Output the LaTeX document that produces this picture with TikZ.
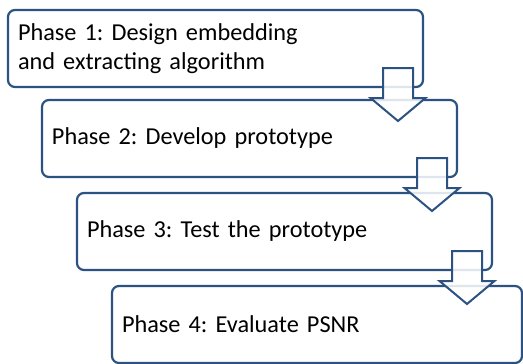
\documentclass[tikz,border=0pt]{standalone}
\usepackage{fontspec}
\setmainfont{Carlito}
\usetikzlibrary{calc}
\definecolor{phaseblue}{RGB}{44,82,130}
\frenchspacing
\begin{document}
\begin{tikzpicture}[x=1pt,y=1pt,
  phase/.style={draw=phaseblue,line width=2.2pt,rounded corners=7pt,fill=white,anchor=north west,outer sep=0pt,
    minimum width=415pt,minimum height=77pt,text width=395pt,inner xsep=10pt,align=left,
    font=\fontsize{24.3}{29}\selectfont},
  blockarrow/.style={draw=phaseblue,line width=2pt,fill=white,fill opacity=0.85}]
\useasboundingbox (0,0) rectangle (523,-364);
\node[phase] (p1) at (8,-10) {Phase 1: Design embedding\\and extracting algorithm};
\node[phase] (p2) at (42,-100) {Phase 2: Develop prototype};
\node[phase] (p3) at (77,-193) {Phase 3: Test the prototype};
\node[phase,minimum width=410pt,text width=390pt] (p4) at (112,-286) {Phase 4: Evaluate PSNR};
% block arrows between the phases
\foreach \n in {p1,p2,p3}
  \draw[blockarrow] ($(\n.south east)+(-40,19)$) -- ($(\n.south east)+(-10,19)$) -- ($(\n.south east)+(-10,-11)$)
    -- ($(\n.south east)+(2.5,-11)$) -- ($(\n.south east)+(-25,-34)$) -- ($(\n.south east)+(-52.5,-11)$)
    -- ($(\n.south east)+(-40,-11)$) -- cycle;
\end{tikzpicture}
\end{document}
